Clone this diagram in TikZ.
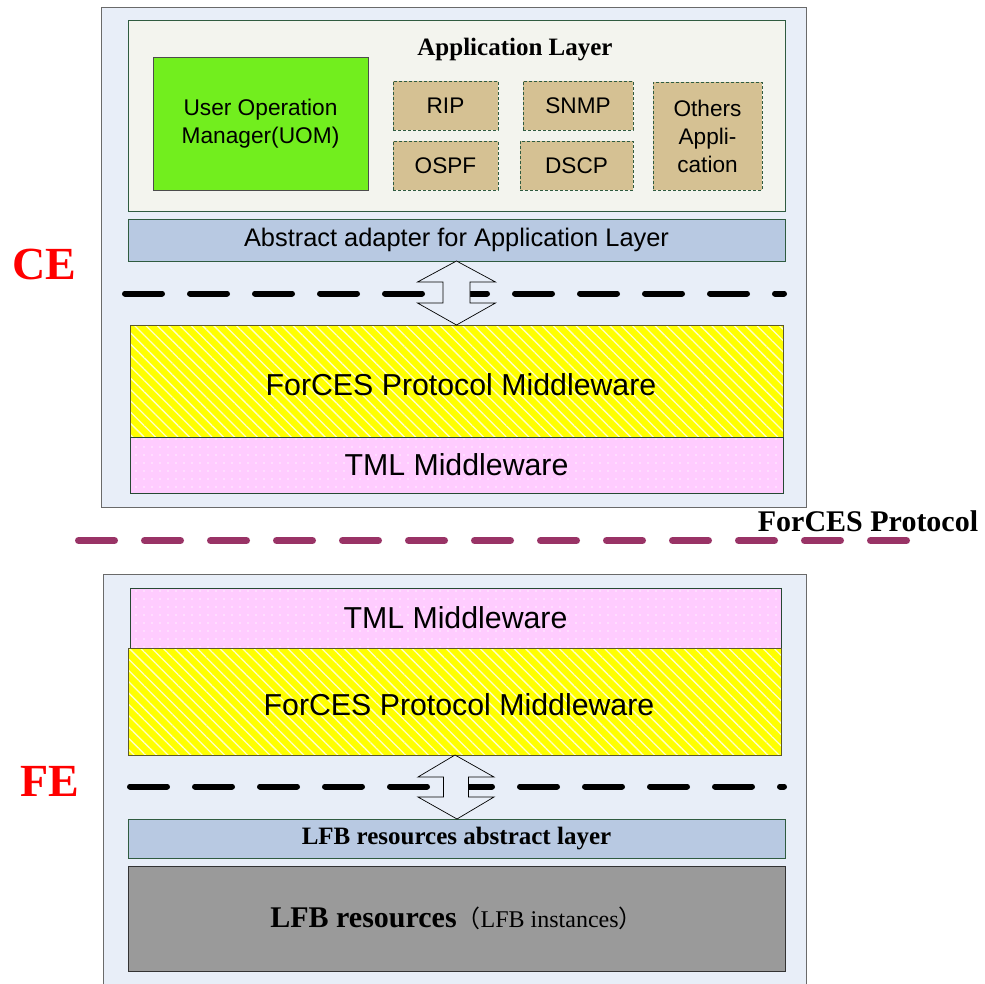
\documentclass[tikz,border=0pt]{standalone}
\usepackage{fontspec}
\setmainfont{Liberation Serif}
\setsansfont{Liberation Sans}
\newfontfamily\cjkfont{Noto Sans CJK SC}
\usetikzlibrary{patterns.meta,calc}
\definecolor{bgblue}{HTML}{E8EEF8}
\definecolor{outerc}{HTML}{6A6A6A}
\definecolor{appbg}{HTML}{F3F4EE}
\definecolor{dkgreen}{HTML}{2F5B40}
\definecolor{uomgreen}{HTML}{72EE1E}
\definecolor{tanc}{HTML}{D5C193}
\definecolor{barblue}{HTML}{B8C9E2}
\definecolor{ylwc}{HTML}{FFFF00}
\definecolor{hatchc}{HTML}{FFFFC8}
\definecolor{pinkc}{HTML}{FFCCFF}
\definecolor{dotc}{HTML}{FFF0FF}
\definecolor{grayc}{HTML}{9A9A9A}
\definecolor{magc}{HTML}{993366}
\definecolor{redc}{HTML}{FF0000}
\newcommand\fsz[2]{\fontsize{#1}{#2}\selectfont}
\begin{document}
\begin{tikzpicture}[x=1pt,y=-1pt,
  every node/.style={inner sep=0pt, outer sep=0pt, align=center},
  outerbox/.style={draw=outerc, line width=1pt, fill=bgblue},
  applyr/.style={draw=dkgreen, line width=0.8pt, fill=appbg},
  uomst/.style={draw=black!70, line width=0.7pt, fill=uomgreen, font=\sffamily\fsz{22.7}{28}},
  protost/.style={draw=dkgreen, line width=0.7pt, dash pattern=on 3pt off 2pt, fill=tanc, font=\sffamily\fsz{22.6}{28}},
  bluebar/.style={draw=dkgreen, line width=0.7pt, fill=barblue},
  ylwbar/.style={draw=black!45!olive, line width=0.8pt, preaction={fill=ylwc},
     pattern={Lines[angle=-45,distance=8pt,line width=1.3pt]}, pattern color=hatchc,
     font=\sffamily\fsz{30.3}{34}},
  pinkbar/.style={draw=dkgreen!80!black, line width=0.8pt, preaction={fill=pinkc},
     pattern={Dots[distance=8pt,radius=0.9pt]}, pattern color=dotc,
     font=\sffamily\fsz{30.3}{34}},
  graybox/.style={draw=black!80, line width=0.9pt, fill=grayc},
  dashblack/.style={line width=6pt, line cap=round, dash pattern=on 37pt off 28pt},
  dashmag/.style={draw=magc, line width=7pt, line cap=round, dash pattern=on 36pt off 30pt},
  arrowst/.style={draw=black, fill=bgblue, line width=0.7pt, line join=miter},
  biglabel/.style={text=redc, font=\bfseries\fsz{46}{46}}]
\useasboundingbox (0,0) rectangle (985,983);

% ---------- CE ----------
\node[outerbox, minimum width=705pt, minimum height=500pt] (ce) at (453.5,257) {};
\node[applyr, minimum width=657pt, minimum height=191pt] (app) at (456.5,115.5) {};
\node[font=\bfseries\fsz{25}{28}] (applabel) at (515,50) {Application Layer};
\node[uomst, minimum width=215pt, minimum height=133pt] (uom) at (260.5,123.5) {User Operation\\Manager(UOM)};
\node[protost, minimum width=105pt, minimum height=49pt] (rip) at (445.5,105.5) {RIP};
\node[protost, minimum width=110pt, minimum height=49pt] (snmp) at (578,105.5) {SNMP};
\node[protost, minimum width=105pt, minimum height=49pt] (ospf) at (445.5,165.5) {OSPF};
\node[protost, minimum width=113pt, minimum height=49pt] (dscp) at (576.5,165.5) {DSCP};
\node[protost, minimum width=109pt, minimum height=108pt] (others) at (707.5,136) {Others\\Appli-\\cation};
\node[bluebar, minimum width=657pt, minimum height=42pt, font=\sffamily\fsz{25.4}{28}] (adapt) at (456.5,240) {Abstract adapter for Application Layer};

\coordinate (dl1a) at (125,293.5);
\coordinate (dl1b) at (784,293.5);
\draw[dashblack] (dl1a) -- (dl1b);

\node[ylwbar, minimum width=653pt, minimum height=112pt] (pm1) at (456.5,381) {};
\node[font=\sffamily\fsz{30.3}{34}] (pm1t) at (461,385) {ForCES Protocol Middleware};
\node[pinkbar, minimum width=653pt, minimum height=56pt] (tml1) at (456.5,465) {TML Middleware};

\draw[arrowst] (adapt.south) -- ++(39,21) -- ++(-25.5,0) -- ++(0,21) -- ++(25.5,0)
  -- (pm1.north) -- ++(-39,-22) -- ++(25.5,0) -- ++(0,-21) -- ++(-25.5,0) -- cycle;

\node[biglabel] (celabel) at (44,264) {CE};

% ---------- ForCES Protocol ----------
\node[font=\bfseries\fsz{30}{32}] (fplabel) at (868,521) {ForCES Protocol};
\coordinate (mla) at (78.5,540.5);
\coordinate (mlb) at (906.5,540.5);
\draw[dashmag] (mla) -- (mlb);

% ---------- FE ----------
\node[outerbox, minimum width=703pt, minimum height=430pt] (fe) at (454.5,789) {};
\node[pinkbar, minimum width=651pt, minimum height=60pt] (tml2) at (455.5,618) {TML Middleware};
\node[ylwbar, minimum width=653pt, minimum height=107pt] (pm2) at (454.5,701.5) {};
\node[font=\sffamily\fsz{30.3}{34}] (pm2t) at (459,705) {ForCES Protocol Middleware};

\coordinate (dl2a) at (130,786.5);
\coordinate (dl2b) at (784,786.5);
\draw[dashblack] (dl2a) -- (dl2b);

\node[bluebar, minimum width=657pt, minimum height=39pt, font=\bfseries\fsz{25}{28}] (lfbabs) at (456.5,838.5) {LFB resources abstract layer};
\node[graybox, minimum width=657pt, minimum height=105pt] (lfb) at (456.5,918.5)
  {{\bfseries\fsz{30}{32}LFB resources}{\fsz{24}{28}\cjkfont（}{\fsz{24}{28}LFB instances}{\fsz{24}{28}\cjkfont）}};

\draw[arrowst] ($(pm2.south)+(0.5,0)$) -- ++(39,22) -- ++(-25.5,0) -- ++(0,20) -- ++(25.5,0)
  -- ($(lfbabs.north)+(0.5,0)$) -- ++(-39,-22) -- ++(25.5,0) -- ++(0,-20) -- ++(-25.5,0) -- cycle;

\node[biglabel] (felabel) at (50,781) {FE};
\end{tikzpicture}
\end{document}
